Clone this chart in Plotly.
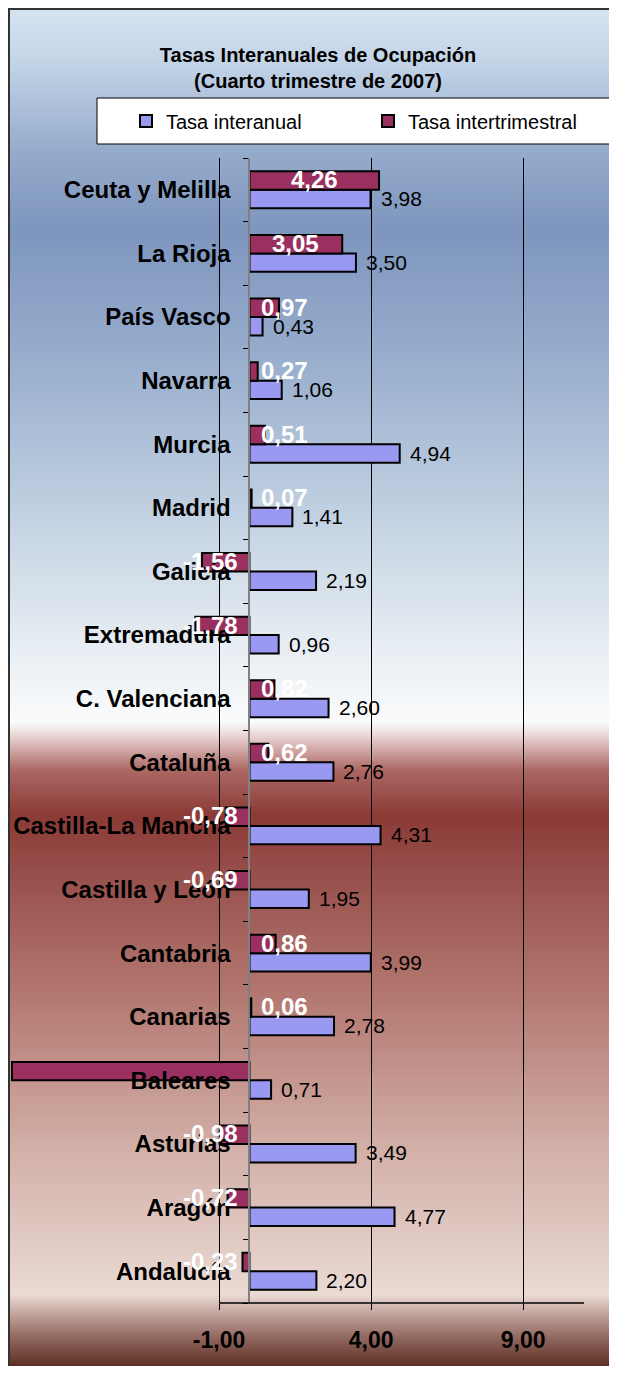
import base64
import struct
import zlib

import plotly.graph_objects as go

categories = ["Andalucía", "Aragón", "Asturias", "Baleares", "Canarias", "Cantabria",
              "Castilla y León", "Castilla-La Mancha", "Cataluña", "C. Valenciana",
              "Extremadura", "Galicia", "Madrid", "Murcia", "Navarra", "País Vasco",
              "La Rioja", "Ceuta y Melilla"]
tasa_interanual = [2.20, 4.77, 3.49, 0.71, 2.78, 3.99, 1.95, 4.31, 2.76, 2.60,
                   0.96, 2.19, 1.41, 4.94, 1.06, 0.43, 3.50, 3.98]
tasa_intertrimestral = [-0.23, -0.72, -0.98, -7.81, 0.06, 0.86, -0.69, -0.78, 0.62, 0.82,
                        -1.78, -1.56, 0.07, 0.51, 0.27, 0.97, 3.05, 4.26]
hidden_labels = ["Baleares"]
x_ticks = [-1, 4, 9]

# the page body has an 8px margin on every side, so the figure is made
# smaller and everything below is given in window pixels, shifted by OFF
OFF = 8
W, H = 617 - 2 * OFF + 2, 1374 - 2 * OFF
L, R, T, B = 0, 25 + 2, 150, 63
PW, PH = W - L - R, H - T - B


def px_x(px):
    return (px - OFF - L) / PW


def px_y(py):
    return (H - B - (py - OFF)) / PH


def fmt(v):
    return f"{v:.2f}".replace(".", ",")


# background gradient stops (window pixel y, rgb)
stops = [
    (8, (214, 228, 241)), (60, (196, 213, 232)), (150, (150, 172, 204)),
    (230, (126, 149, 190)), (350, (150, 172, 204)), (500, (190, 206, 224)),
    (650, (232, 238, 243)), (722, (250, 251, 252)), (735, (235, 215, 214)),
    (770, (172, 104, 100)), (815, (139, 58, 53)), (870, (150, 78, 74)),
    (1000, (180, 122, 114)), (1150, (210, 176, 168)), (1295, (234, 218, 212)),
    (1308, (205, 180, 172)), (1335, (150, 110, 102)), (1366, (94, 46, 36)),
]


def grad_rgb(y):
    for (y0, c0), (y1, c1) in zip(stops[:-1], stops[1:]):
        if y0 <= y <= y1:
            t = (y - y0) / (y1 - y0)
            return [round(a + (b - a) * t) for a, b in zip(c0, c1)]
    return list(stops[-1][1])


def png_gradient(rows, width=8):
    raw = b"".join(b"\x00" + bytes(c) * width for c in rows)

    def chunk(tag, data):
        return (struct.pack(">I", len(data)) + tag + data
                + struct.pack(">I", zlib.crc32(tag + data) & 0xffffffff))

    ihdr = struct.pack(">IIBBBBB", width, len(rows), 8, 2, 0, 0, 0)
    png = (b"\x89PNG\r\n\x1a\n" + chunk(b"IHDR", ihdr)
           + chunk(b"IDAT", zlib.compress(raw)) + chunk(b"IEND", b""))
    return "data:image/png;base64," + base64.b64encode(png).decode()


bg_top, bg_bottom, bg_right = 8, 1366, OFF + W
gradient = png_gradient([grad_rgb(y + 0.5) for y in range(bg_top, bg_bottom)])

shapes = [
    # chart border (left and top)
    dict(type="line", xref="paper", yref="paper", x0=px_x(9), x1=px_x(9),
         y0=px_y(8), y1=px_y(bg_bottom), line=dict(color="#333333", width=2)),
    dict(type="line", xref="paper", yref="paper", x0=px_x(8), x1=px_x(bg_right),
         y0=px_y(9), y1=px_y(9), line=dict(color="#333333", width=2)),
    # legend box
    dict(type="rect", xref="paper", yref="paper", layer="below",
         x0=px_x(97), x1=px_x(610), y0=px_y(144), y1=px_y(98),
         fillcolor="white", line=dict(color="black", width=1)),
    # value axis line
    dict(type="line", xref="x", yref="y domain", x0=x_ticks[0], x1=11,
         y0=0, y1=0, line=dict(color="black", width=1.5)),
]

fig = go.Figure()
fig.add_trace(go.Bar(
    y=categories, x=tasa_interanual, orientation="h", name="Tasa interanual",
    marker=dict(color="#9999f2", line=dict(color="black", width=2)),
    hoverinfo="y+x",
))
fig.add_trace(go.Bar(
    y=categories, x=tasa_intertrimestral, orientation="h", name="Tasa intertrimestral",
    marker=dict(color="#993060", line=dict(color="black", width=2)),
    hoverinfo="y+x",
))

annotations = []
for cat, v in zip(categories, tasa_interanual):
    annotations.append(dict(x=v, y=cat, xref="x", yref="y", text=fmt(v),
                            showarrow=False, xanchor="left", xshift=8, yshift=-9,
                            font=dict(family="Liberation Sans, Arial", size=21, color="black")))
for cat, v in zip(categories, tasa_intertrimestral):
    if cat in hidden_labels:
        continue
    if abs(v) >= 2:
        ax, anchor, shift = v / 2, "center", 0
    elif v >= 0:
        ax, anchor, shift = 0, "left", 10
    else:
        ax, anchor, shift = 0, "right", -9
    annotations.append(dict(x=ax, y=cat, xref="x", yref="y", text=f"<b>{fmt(v)}</b>",
                            showarrow=False, xanchor=anchor, xshift=shift, yshift=10,
                            font=dict(family="Liberation Sans, Arial", size=24, color="white")))

fig.update_layout(
    width=W, height=H,
    margin=dict(l=L, r=R, t=T, b=B),
    paper_bgcolor="white",
    plot_bgcolor="rgba(0,0,0,0)",
    barmode="group", bargap=0.42, bargroupgap=0,
    separators=",.",
    font=dict(family="Liberation Sans, Arial", color="black"),
    title=dict(text="<b>Tasas Interanuales de Ocupación<br>(Cuarto trimestre de 2007)</b>",
               x=(318 - OFF) / W, xanchor="center",
               y=1 - 54 / H, yanchor="middle",
               font=dict(size=20, color="black")),
    legend=dict(orientation="h", x=px_x(126), xanchor="left", y=px_y(121), yanchor="middle",
                bgcolor="rgba(0,0,0,0)", borderwidth=0, entrywidth=197,
                font=dict(size=20, color="black"), traceorder="normal"),
    images=[dict(source=gradient, xref="paper", yref="paper",
                 x=px_x(bg_top), y=px_y(bg_top),
                 sizex=px_x(bg_right) - px_x(bg_top), sizey=px_y(bg_top) - px_y(bg_bottom),
                 xanchor="left", yanchor="top", sizing="stretch", layer="below")],
    shapes=shapes,
    annotations=annotations,
    xaxis=dict(range=[-(249.4 - OFF) / 30.4, 11.0], tickvals=x_ticks,
               ticktext=[fmt(v) for v in x_ticks],
               showgrid=True, gridcolor="black", gridwidth=1, zeroline=False,
               showline=False, ticks="outside", ticklen=6, tickcolor="black",
               ticklabelstandoff=10,
               tickfont=dict(size=23, color="black", family="Liberation Sans, Arial", weight="bold")),
    yaxis=dict(type="category", categoryorder="array", categoryarray=categories,
               anchor="free", position=px_x(249.4), showline=True, linecolor="#808080",
               linewidth=2, ticks="outside", ticklen=5, tickcolor="black",
               tickson="boundaries", showgrid=False, ticklabelstandoff=13,
               tickfont=dict(size=24, color="black", family="Liberation Sans, Arial", weight="bold")),
)

fig.write_html("out.html")
